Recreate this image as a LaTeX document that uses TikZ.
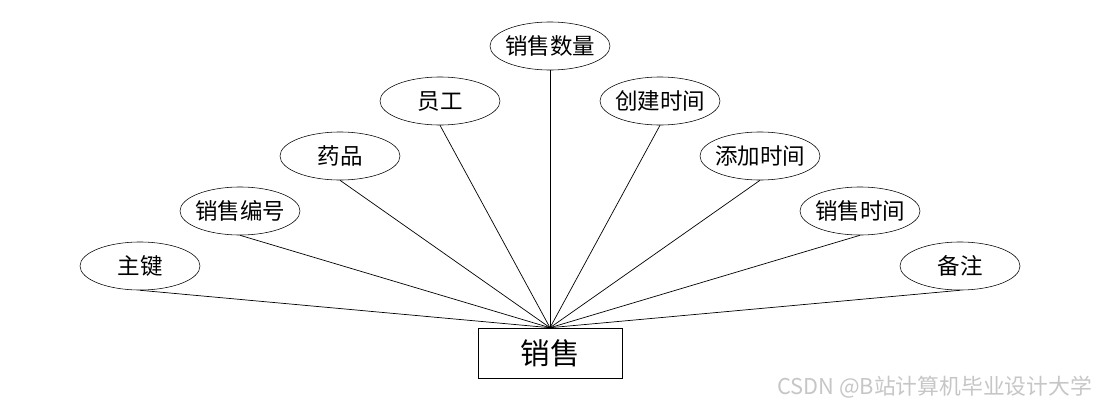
\documentclass[tikz,border=0pt]{standalone}
\usepackage{fontspec}
\setmainfont{Noto Sans CJK SC}
\usetikzlibrary{shapes.geometric}

\tikzset{
  attr/.style={draw, ellipse, inner sep=0pt, inner xsep=-5pt, minimum width=3cm, minimum height=1.2cm, font=\fontsize{16}{18}\selectfont},
  entity/.style={draw, rectangle, inner sep=0pt, minimum width=3.6cm, minimum height=1.25cm, font=\fontsize{21}{24}\selectfont},
  link/.style={draw, line width=0.5pt}
}

\begin{document}
\begin{tikzpicture}[x=0.025cm,y=-0.025cm]
\useasboundingbox (0,0) rectangle (1100,408);
% entity
\node[entity] (xs) at (550,353) {销售};
% attributes
\node[attr] (zj) at (140,266) {主键};
\node[attr] (xsbh) at (240,211) {销售编号};
\node[attr] (yp) at (340,156) {药品};
\node[attr] (yg) at (440,101) {员工};
\node[attr] (xssl) at (550,46) {销售数量};
\node[attr] (cjsj) at (660,101) {创建时间};
\node[attr] (tjsj) at (760,156) {添加时间};
\node[attr] (xssj) at (860,211) {销售时间};
\node[attr] (bz) at (960,266) {备注};
% links
\foreach \a in {zj,xsbh,yp,yg,xssl,cjsj,tjsj,xssj,bz}
  \draw[link] (\a.south) -- (xs.north);
% watermark
\node[text=gray!45, anchor=east, font=\fontsize{15.5}{17}\selectfont] (wm) at (1097,387) {CSDN @B站计算机毕业设计大学};
\end{tikzpicture}
\end{document}
